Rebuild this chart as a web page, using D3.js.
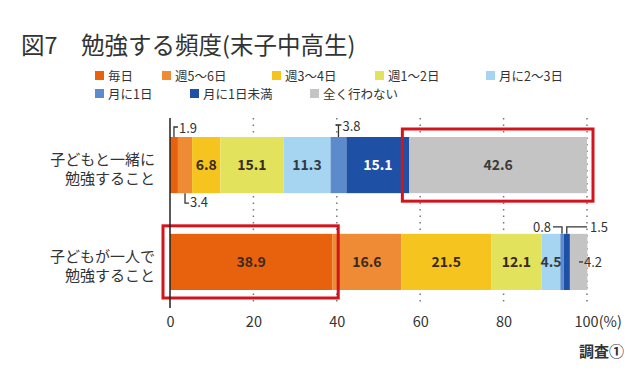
<!DOCTYPE html>
<html>
<head>
<meta charset="utf-8">
<script src="https://cdn.jsdelivr.net/npm/d3@7"></script>
<style>
  body { margin: 0; background: #fff; }
  svg { font-family: "Noto Sans CJK JP", "Noto Sans", sans-serif; }
</style>
</head>
<body>
<div id="chart"></div>
<script>
/* CONSTANTS AND GLOBALS */
const width = 640,
  height = 378;

// categories (legend order = stack order)
const freqLabels = ["毎日", "週5〜6日", "週3〜4日", "週1〜2日", "月に2〜3日", "月に1日", "月に1日未満", "全く行わない"];
const freqColors = ["#e8620e", "#ef8b35", "#f6c41f", "#e2e25c", "#a5d5f1", "#5b8bcb", "#1e51a5", "#c5c4c4"];
const labelColors = ["#3a2a20", "#3a2a20", "#3a2a20", "#3a2a20", "#333a44", "#ffffff", "#ffffff", "#3a3a3a"];

// rows
const rowNames = ["together", "alone"];
const rowLabels = [["子どもと一緒に", "勉強すること"], ["子どもが一人で", "勉強すること"]];
const togetherValues = [1.9, 3.4, 6.8, 15.1, 11.3, 3.8, 15.1, 42.6];
const aloneValues = [38.9, 16.6, 21.5, 12.1, 4.5, 0.8, 1.5, 4.2];

// x ticks
const tickValues = [0, 20, 40, 60, 80, 100];

// segments labelled outside the bar: [row, segment index, side]
const outsideLabels = [
  ["together", 0, "aboveRight"],
  ["together", 1, "belowRight"],
  ["together", 5, "aboveT"],
  ["alone", 5, "aboveLeft"],
  ["alone", 6, "aboveFar"],
  ["alone", 7, "right"]
];

// red highlight boxes: [row, segment index]
const highlights = [["together", 7], ["alone", 0]];

/* DATA TABLE */
const table = rowNames.map((r, i) => {
  const vals = i === 0 ? togetherValues : aloneValues;
  const o = { row: r };
  freqLabels.forEach((f, j) => o[f] = vals[j]);
  return o;
});
const series = d3.stack().keys(freqLabels)(table);

/* SCALES */
const xScale = d3.scaleLinear().domain([0, 100]).range([170, 587]);
const yScale = d3.scaleBand().domain(rowNames).range([137, 290]).paddingInner(0.42).paddingOuter(0);
const color = d3.scaleOrdinal().domain(freqLabels).range(freqColors);

const svg = d3.select("#chart").append("svg")
  .attr("width", width)
  .attr("height", height);

// title
svg.append("text")
  .attr("x", 21).attr("y", 54)
  .attr("font-size", 23.5)
  .attr("fill", "#333")
  .text("図7　勉強する頻度(末子中高生)");

// legend
const legendPos = [[95, 76], [162, 76], [272, 76], [375, 76], [486, 76], [95, 94], [190, 94], [310, 94]];
const legend = svg.append("g").selectAll("g")
  .data(freqLabels)
  .join("g")
  .attr("transform", (d, i) => `translate(${legendPos[i][0]},${legendPos[i][1]})`);
legend.append("rect")
  .attr("x", 0).attr("y", -5).attr("width", 9).attr("height", 9)
  .attr("fill", d => color(d));
legend.append("text")
  .attr("x", 13).attr("y", 4.5)
  .attr("font-size", 12.5)
  .attr("fill", "#333")
  .text(d => d);

// gridlines
svg.append("g").selectAll("line")
  .data(tickValues.slice(1))
  .join("line")
  .attr("x1", d => xScale(d)).attr("x2", d => xScale(d))
  .attr("y1", 118).attr("y2", 306)
  .attr("stroke", "#777")
  .attr("stroke-width", 1.5)
  .attr("stroke-dasharray", "1.5,5");

// bars
const layer = svg.append("g").selectAll("g")
  .data(series)
  .join("g")
  .attr("fill", d => color(d.key));
layer.selectAll("rect")
  .data(d => d.map(s => ({ key: d.key, index: d.index, s })))
  .join("rect")
  .attr("x", d => xScale(d.s[0]))
  .attr("width", d => xScale(d.s[1]) - xScale(d.s[0]))
  .attr("y", d => yScale(d.s.data.row))
  .attr("height", yScale.bandwidth());

// inside labels
const outsideKey = new Set(outsideLabels.map(d => d[0] + "-" + d[1]));
const inside = [];
series.forEach((ser, j) => ser.forEach(s => {
  if (!outsideKey.has(s.data.row + "-" + j)) inside.push({ j, s });
}));
svg.append("g").selectAll("text")
  .data(inside)
  .join("text")
  .attr("x", d => xScale((d.s[0] + d.s[1]) / 2))
  .attr("y", d => yScale(d.s.data.row) + yScale.bandwidth() / 2 + 5)
  .attr("text-anchor", "middle")
  .attr("font-size", 14)
  .attr("font-weight", "bold")
  .attr("fill", d => labelColors[d.j])
  .text(d => d3.format(".1f")(d.s.data[freqLabels[d.j]]));

// outside labels with leaders
const ann = svg.append("g").attr("font-size", 13).attr("fill", "#333");
outsideLabels.forEach(([row, j, side]) => {
  const s = series[j][rowNames.indexOf(row)];
  const v = s.data[freqLabels[j]];
  const cx = xScale((s[0] + s[1]) / 2);
  const top = yScale(row), bot = top + yScale.bandwidth();
  let path, tx, ty, anchor = "start";
  if (side === "aboveRight") {
    path = `M${cx},${top}V${top - 10}H${cx + 4}`; tx = cx + 5; ty = top - 4;
  } else if (side === "belowRight") {
    path = `M${cx},${bot}V${bot + 10}H${cx + 4}`; tx = cx + 5; ty = bot + 14;
  } else if (side === "aboveT") {
    path = `M${cx},${top}V${top - 12}M${cx - 3},${top - 12}H${cx + 3}`; tx = cx + 4; ty = top - 6;
  } else if (side === "aboveLeft") {
    path = `M${cx},${top}V${top - 7}H${cx - 9}`; tx = cx - 11; ty = top - 2; anchor = "end";
  } else if (side === "aboveFar") {
    path = `M${cx},${top}V${top - 7}H${xScale(100)}`; tx = xScale(100) + 3; ty = top - 2;
  } else {
    const my = top + yScale.bandwidth() / 2;
    path = `M${xScale(100) - 8},${my}H${xScale(100) - 4}`; tx = xScale(100) - 3; ty = my + 5;
  }
  ann.append("path").attr("d", path).attr("fill", "none").attr("stroke", "#333").attr("stroke-width", 1.3);
  ann.append("text").attr("x", tx).attr("y", ty).attr("text-anchor", anchor).text(d3.format(".1f")(v));
});

// highlight boxes
svg.append("g").selectAll("rect")
  .data(highlights)
  .join("rect")
  .attr("x", d => xScale(series[d[1]][rowNames.indexOf(d[0])][0]) - 7)
  .attr("width", d => xScale(series[d[1]][rowNames.indexOf(d[0])][1]) - xScale(series[d[1]][rowNames.indexOf(d[0])][0]) + 13)
  .attr("y", d => yScale(d[0]) - 8)
  .attr("height", yScale.bandwidth() + 16)
  .attr("fill", "none")
  .attr("stroke", "#d3141d")
  .attr("stroke-width", 3);

// zero line
svg.append("line")
  .attr("x1", xScale(0)).attr("x2", xScale(0))
  .attr("y1", 118).attr("y2", 308)
  .attr("stroke", "#222").attr("stroke-width", 1.5);

// row labels (one text per line)
const rowLines = [];
rowNames.forEach((r, i) => rowLabels[i].forEach((t, k) => rowLines.push({ row: r, t, k })));
svg.append("g").selectAll("text")
  .data(rowLines)
  .join("text")
  .attr("text-anchor", "end")
  .attr("font-size", 15)
  .attr("fill", "#333")
  .attr("x", 155)
  .attr("y", d => yScale(d.row) + yScale.bandwidth() / 2 + d.k * 19)
  .text(d => d.t);

// x axis
const xAxis = d3.axisBottom(xScale)
  .tickValues(tickValues)
  .tickSize(0)
  .tickFormat(d => d === 100 ? "100(%)" : d);
const ax = svg.append("g")
  .attr("transform", `translate(0, 314)`)
  .call(xAxis)
  .attr("font-size", 14.5)
  .attr("font-family", "'Noto Sans CJK JP', sans-serif");
ax.select(".domain").remove();
ax.selectAll("text").attr("fill", "#333");
ax.selectAll(".tick").filter(d => d === 100).select("text")
  .attr("text-anchor", "start").attr("dx", -13);

// source note
svg.append("text")
  .attr("x", 624).attr("y", 357)
  .attr("text-anchor", "end")
  .attr("font-size", 15)
  .attr("font-weight", "bold")
  .attr("fill", "#333")
  .text("調査①");
</script>
</body>
</html>
